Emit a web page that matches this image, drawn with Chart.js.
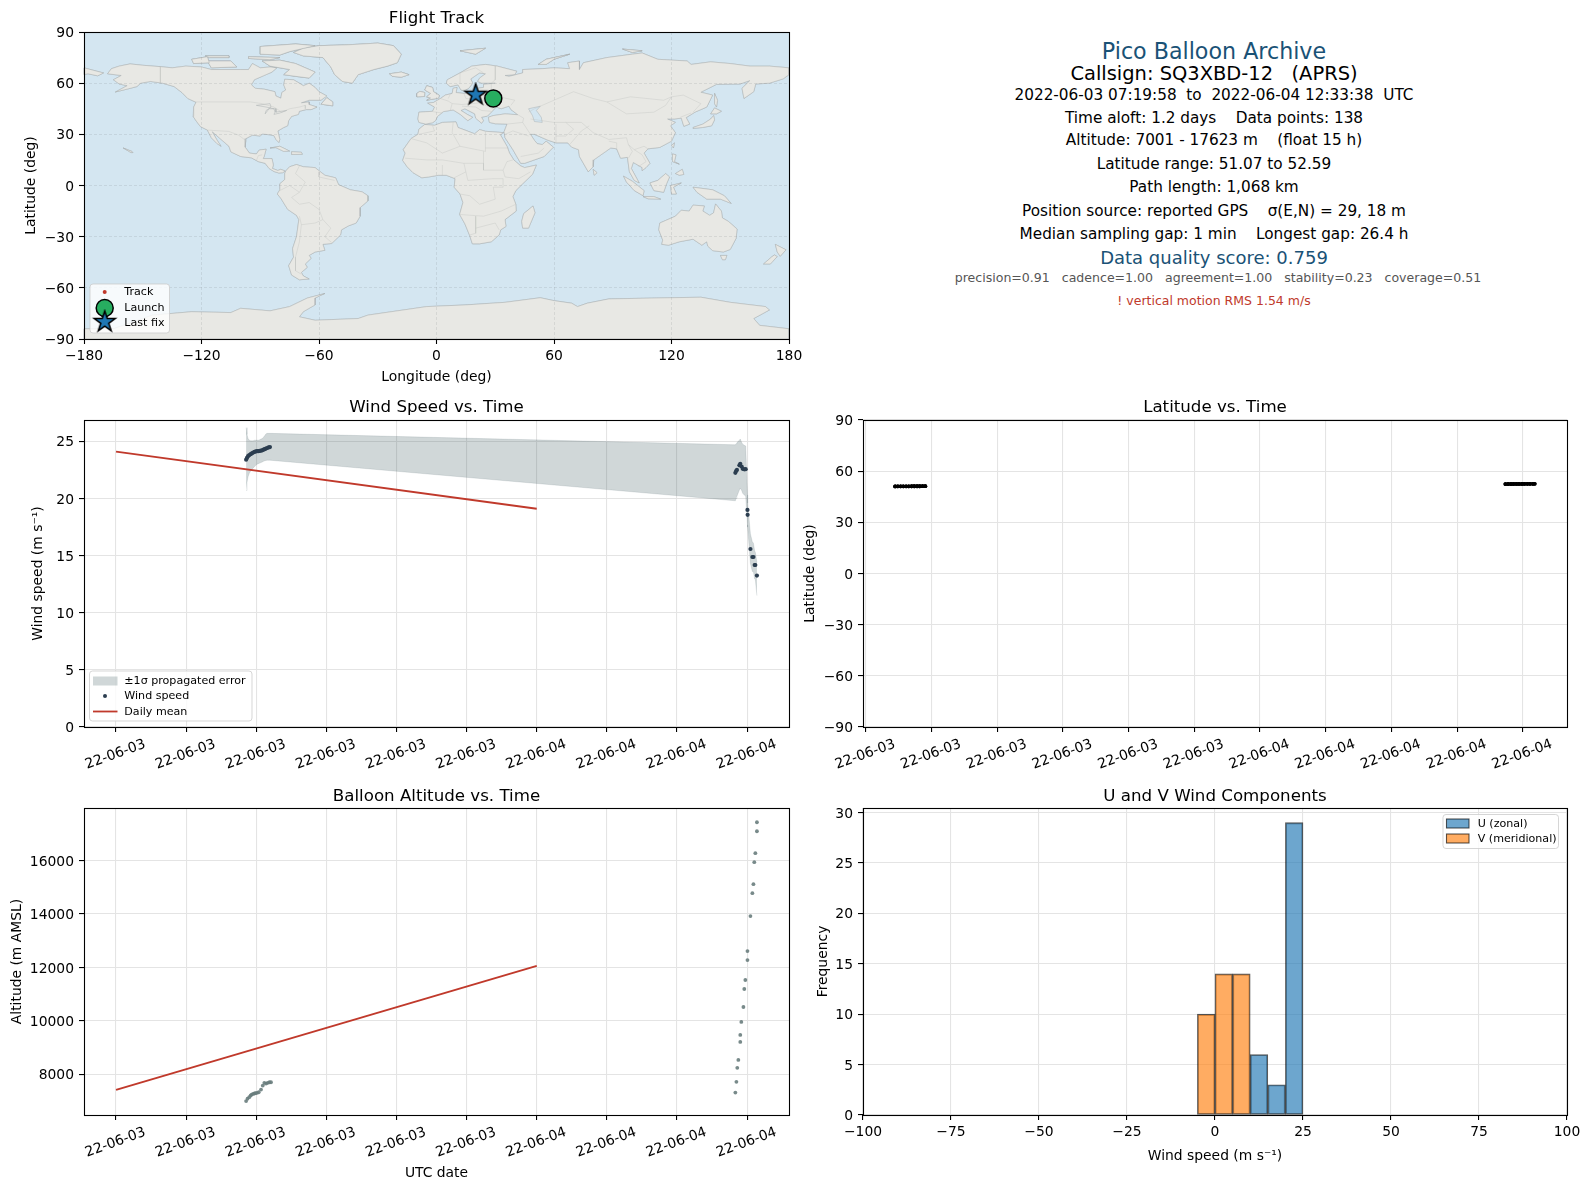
<!DOCTYPE html>
<html><head><meta charset="utf-8">
<style>
html,body{margin:0;padding:0;background:#fff;width:1590px;height:1189px;overflow:hidden;font-family:"DejaVu Sans",sans-serif}
canvas{position:absolute}
.info{position:absolute;white-space:pre;transform:translate(-50%,-50%);left:1214px;line-height:1}
</style>
<script src="https://cdn.jsdelivr.net/npm/chart.js@4/dist/chart.umd.js"></script>
</head><body>
<script>
/* ---------- data ---------- */
const windHours=[7.42,7.47,7.53,7.6,7.68,7.75,7.82,7.9,7.98,8.05,8.12,8.2,8.27,8.34,8.41,8.48,8.55,8.62,8.7,8.78,
 35.33,35.37,35.42,35.56,35.61,35.69,35.75,35.84,35.92,36.02,36.03,36.19,36.3,36.36,36.43,36.47,36.56];
const windSpeed=[23.4,23.55,23.7,23.8,23.88,23.95,24.02,24.08,24.12,24.15,24.14,24.16,24.19,24.22,24.27,24.32,24.37,24.42,24.47,24.5,
 22.25,22.4,22.5,22.9,23.04,22.8,22.6,22.55,22.57,19.0,18.57,15.58,14.88,14.88,14.18,14.18,13.25];
const windUpper=[26.2,25.6,25.25,25.1,25.05,25.05,25.05,25.1,25.1,25.1,25.1,25.15,25.2,25.25,25.35,25.5,25.65,25.7,25.7,25.7,
 24.7,24.8,24.9,25.1,25.2,24.9,24.75,24.65,24.6,20.3,19.6,16.9,16.2,16.1,15.4,15.3,14.4];
const windLower=[20.7,21.4,21.9,22.2,22.4,22.55,22.65,22.8,22.9,23.0,23.05,23.1,23.15,23.2,23.25,23.3,23.33,23.35,23.35,23.35,
 19.8,20.0,20.2,20.75,20.9,20.7,20.45,20.3,20.2,17.7,17.5,14.3,13.6,13.6,12.95,12.9,11.5];
const dailyHours=[0,24];
const dailyWind=[24.1,19.1];
const dailyAlt=[7420,12060];
const altHours=[7.42,7.5,7.6,7.68,7.74,7.82,7.89,7.96,8.04,8.14,8.27,8.37,8.46,8.56,8.65,8.75,8.84,
 35.33,35.39,35.44,35.5,35.61,35.61,35.67,35.79,35.84,35.9,36.02,36.02,36.19,36.3,36.36,36.41,36.47,36.56,36.56];
const altMeters=[7001,7090,7145,7210,7245,7270,7283,7295,7308,7331,7432,7580,7682,7656,7682,7705,7705,
 7320,7720,8243,8542,9214,9476,9962,10522,11195,11531,12279,12615,13923,14782,15119,15941,16277,17099,17436];
const altTicks=[8000,10000,12000,14000,16000];
const latHours=[7.33,7.34,7.35,7.45,7.46,7.47,7.58,7.59,7.6,7.7,7.71,7.72,7.83,7.84,7.85,7.95,7.96,7.97,8.08,8.09,8.1,8.2,8.21,8.22,8.33,8.34,8.35,8.45,8.46,8.47,8.58,8.59,8.6,8.7,8.71,8.72,
 35.2,35.21,35.22,35.32,35.33,35.34,35.45,35.46,35.47,35.57,35.58,35.59,35.7,35.71,35.72,35.82,35.83,35.84,35.95,35.96,35.97,36.07,36.08,36.09,36.2,36.21,36.22,36.32,36.33,36.34,36.45,36.46,36.47,36.54,36.55,36.56];
const latDeg=[51.07,51.08,51.08,51.09,51.09,51.1,51.1,51.1,51.11,51.11,51.12,51.12,51.12,51.13,51.13,51.13,51.14,51.14,51.14,51.15,51.15,51.15,51.15,51.16,51.16,51.16,51.17,51.17,51.17,51.17,51.18,51.18,51.18,51.18,51.19,51.19,
 52.45,52.45,52.46,52.46,52.47,52.47,52.48,52.48,52.49,52.49,52.5,52.5,52.51,52.51,52.52,52.52,52.53,52.53,52.54,52.54,52.55,52.55,52.56,52.56,52.57,52.57,52.57,52.58,52.58,52.58,52.59,52.59,52.59,52.59,52.59];
const trackLon=[29,28.8,28.5,28.2,27.9,21.2,20.9,20.6,20.3,20];
const trackLat=[51.07,51.1,51.13,51.17,51.2,52.45,52.5,52.54,52.57,52.59];
const launchLon=[29], launchLat=[51.07];
const lastLon=[20], lastLat=[52.59];
const histBinCentersU=[12.5,17.5,22.5];
const histCountsU=[6,3,29];
const histBinCentersV=[-2.5,2.5,7.5];
const histCountsV=[10,14,14];

const infoTexts=["Pico Balloon Archive","Callsign: SQ3XBD-12   (APRS)","2022-06-03 07:19:58  to  2022-06-04 12:33:38  UTC",
 "Time aloft: 1.2 days    Data points: 138","Altitude: 7001 - 17623 m    (float 15 h)","Latitude range: 51.07 to 52.59",
 "Path length: 1,068 km","Position source: reported GPS    σ(E,N) = 29, 18 m","Median sampling gap: 1 min    Longest gap: 26.4 h",
 "Data quality score: 0.759","precision=0.91   cadence=1.00   agreement=1.00   stability=0.23   coverage=0.51","! vertical motion RMS 1.54 m/s"];

/* coastlines, lon/lat pairs */
const northAmerica=[[-168,65.5],[-166,68.5],[-162,70],[-156.5,71.3],[-150,70.5],[-141,69.7],[-135,69],[-128,70],[-120,69.5],[-115,68],[-108,68],[-100,68],[-96,68],[-94,71.5],[-90,69],[-85,69.5],[-81.5,69],[-84,66.5],[-87,65],[-93,62],[-94.5,59],[-92.5,57],[-88,56.5],[-82.5,55],[-82,52.5],[-79.5,51.2],[-79,54.5],[-77,56],[-78,59],[-77.5,62.3],[-73,62],[-70,60],[-68,58.5],[-65,60],[-62,57.5],[-60,55],[-56,52.5],[-59,50],[-65,50],[-69,48.5],[-65,49],[-65,47.5],[-61,46],[-64,44.5],[-66.5,44.5],[-70,43.5],[-70.5,41.7],[-74,40.5],[-75.5,38],[-76,35],[-78,34],[-81,32],[-80,27],[-80.5,25.2],[-82,27],[-83,29.2],[-85,29.7],[-89,30.2],[-90,29],[-94,29.5],[-97.3,27.5],[-97.7,22.5],[-95.5,19],[-92,18.5],[-90.5,20.8],[-87,21.3],[-88,17],[-88.5,15.8],[-84,15.8],[-83.3,12],[-83.8,10],[-81,8.8],[-79.5,9.5],[-77.3,8.5],[-78.5,7.5],[-80.5,7.3],[-83,8.2],[-85.5,10],[-87.5,13],[-91,14],[-94.5,16.2],[-100,17],[-105,19.7],[-106,23],[-109,26],[-112.5,29.5],[-114.5,31.5],[-112,26.5],[-110,23],[-112,24.5],[-115,28],[-117,32.5],[-120.5,34.5],[-122.5,37.5],[-124.3,40.5],[-124,46],[-122.8,48.8],[-127,51],[-130,54.5],[-134,58],[-140,60],[-146,61],[-151,60],[-153,58],[-158,56.5],[-164,54.8],[-158,58.5],[-162,59.5],[-165,62],[-161,64.5],[-168,65.5]];
const greenland=[[-73,78],[-68,80.5],[-60,82],[-45,82.5],[-30,83.5],[-22,82],[-18,77],[-20,72],[-25,70],[-32,68],[-40,65],[-43,60],[-48,61],[-52,65],[-54,69.5],[-58,75],[-68,76],[-73,78]];
const baffin=[[-80,73.5],[-72,71.5],[-67,69],[-62,66.5],[-65,63],[-72,64],[-78,65],[-75,68],[-85,70],[-89,73],[-80,73.5]];
const victoriaIsland=[[-117,73],[-105,73],[-102,69.5],[-115,69],[-117,73]];
const banksIsland=[[-125,74],[-117,75.5],[-116,72],[-124,71.5],[-125,74]];
const ellesmere=[[-90,77],[-80,76.5],[-75,78.5],[-62,82],[-72,83],[-90,81.5],[-90,77]];
const devonIsland=[[-96,75.5],[-80,75],[-85,73.8],[-96,74.5],[-96,75.5]];
const melville=[[-118,76],[-106,76],[-106,75],[-116,75],[-118,76]];
const newfoundland=[[-59,47.7],[-53,46.7],[-53,49],[-56,51.5],[-59,47.7]];
const cuba=[[-85,22],[-80,23],[-75,20.2],[-78,20],[-82,22.2],[-85,22]];
const hispaniola=[[-74,19.8],[-69,19.5],[-68.5,18.3],[-74,18.2],[-74,19.8]];
const hawaii=[[-160,22],[-155.5,20],[-155,19.3],[-156,19.3],[-160,22]];
const iceland=[[-24,65.5],[-18,66.5],[-14,65],[-18,63.5],[-22.5,64],[-24,65.5]];
const britain=[[-5,50],[1,51.2],[1.5,52.8],[-1.5,55],[-2,57.5],[-5,58.5],[-6,56],[-3,54],[-5,52],[-3,51.3],[-5,50]];
const ireland=[[-10,52],[-6.2,52.2],[-6,54.5],[-8.5,55.2],[-10,54],[-10,52]];
const southAmerica=[[-77,8.5],[-75,11],[-71.5,12.3],[-68,11],[-62,10.5],[-57,6],[-51.5,4.5],[-50,0.5],[-44,-2.5],[-38,-3.7],[-35,-6],[-35,-9],[-39,-13],[-39,-18],[-41,-22],[-45,-23.7],[-48.5,-26],[-49,-29],[-53.5,-34],[-58,-34.5],[-57,-38],[-62,-39],[-65,-41],[-64,-42.7],[-67,-46],[-66,-48],[-69,-51],[-68,-53],[-65,-54.8],[-70,-55.3],[-74,-52.5],[-75.5,-47],[-73,-42],[-73.5,-37],[-71.5,-30],[-70.3,-20],[-71.5,-17.5],[-76,-14],[-79.5,-7.5],[-81.3,-5],[-80,-2.5],[-80,1],[-77.5,3.5],[-77.5,7],[-77,8.5]];
const africa=[[-6,35.8],[-1,35.3],[3,37],[10,37.3],[11,34],[15,32.3],[19.5,30.3],[22,32.8],[25,31.8],[32,31.2],[34.3,31],[32.6,29.8],[34,27],[36,23],[37.3,19],[39.5,15],[43,11.5],[45,10.5],[51,12],[49,6.5],[44,1],[40.5,-3],[39,-6.5],[40.5,-11],[40.7,-15],[35,-20],[35.5,-24],[32.8,-26],[32,-29],[28,-33],[22,-34.2],[18.3,-34.2],[17,-29.5],[14.5,-22.5],[11.8,-17],[13.5,-10],[12,-5],[9,-1],[9.5,4],[5,6],[1,6],[-4,5],[-7.5,4.5],[-12,7.5],[-15,11],[-17.3,14.7],[-16,19],[-17,21],[-13,27.5],[-9.5,30],[-9,33],[-6,35.8]];
const eurasia=[[-9,37],[-9.5,39],[-9,43],[-2,43.5],[-1,46],[-4.5,48.3],[-1.5,48.7],[2,51],[4.5,53],[8,54],[8.5,57],[10.5,57.5],[10,54.5],[14,54],[19,54.5],[21,57],[24,57.5],[24,59.3],[30,60],[23,60],[21,61],[22,63],[25,65.5],[22,66],[17.5,62.5],[18.5,60],[16.5,57],[14,55.5],[12.5,56],[11,59],[7,58],[5,60],[5.5,62],[12,66],[18,70],[25,71],[31,70],[41,67],[40,65],[35,64.5],[37,64],[44,66],[44,68],[54,68.5],[60,69],[68,68.5],[67,72],[73,73],[73,68],[75,72],[81,73.5],[87,75],[100,77],[105,77.7],[113,74],[128,73],[130,71],[140,72.5],[150,71.5],[160,70],[170,70],[180,69],[180,65],[177,62.5],[170,60],[163,59.5],[162,55],[157,51],[156,57],[160,61.5],[155,59.5],[143,59.3],[135,54.7],[141,53],[138,46],[132,43],[127.5,39.8],[129.3,36],[126.3,34.7],[125,39.5],[121.5,39],[118,39],[122,37],[119.5,35],[122,31],[120,26],[114,22.3],[108,21.5],[106,19],[109,13],[107,10.5],[105,8.7],[105,10.5],[100.5,13.5],[99.5,10],[103.5,1.5],[101,3],[98.5,8],[97.5,16.5],[94,16],[92,21.5],[89,22],[86.5,20],[80.3,15],[80,11],[77.5,8],[73,17],[72.5,21],[69,22.5],[67,25],[61,25],[57,26.5],[56,27],[50,30],[48,30],[50,26.5],[51.5,24.5],[54,24],[56,26],[59.7,22.5],[55,17],[45,13],[43,13],[39,21],[35,28],[34.5,31.5],[36,36],[30,36.2],[27,37],[26.5,40],[29,41],[35,42],[41.5,41.5],[38,44.5],[37,46.5],[33,45],[30.5,46],[28,43],[26,40.7],[23,40],[24,38],[23,36.5],[20,39.5],[19.5,42],[14.5,45],[12.5,44],[16,41.5],[18.5,40],[16,38],[12,41.8],[8.5,44.3],[3.5,43.3],[0.5,40.5],[-0.5,38],[-2,36.8],[-5.5,36],[-9,37]];
const chukotkaWest=[[-180,69],[-175,67.5],[-170,66],[-173,64.3],[-178,65.5],[-180,65],[-180,69]];
const madagascar=[[49.3,-12],[50.3,-16],[47,-25],[44,-25],[43.5,-21],[44.5,-16.5],[49.3,-12]];
const sriLanka=[[80,9.5],[82,7.5],[80.5,6],[80,9.5]];
const sumatra=[[95.5,5.5],[100,2.5],[106,-3],[105.5,-6],[101,-3],[97,2],[95.5,5.5]];
const java=[[105.5,-6.5],[111,-6.5],[114.5,-8],[108,-7.8],[105.5,-6.5]];
const borneo=[[109,1.5],[113,3],[117,7],[119,5],[117.5,1],[116,-4],[111,-3],[109,1.5]];
const sulawesi=[[119.5,0],[125,1.5],[121,-1],[122.5,-5],[120,-5],[119.5,0]];
const newGuinea=[[131,-1],[141,-2.5],[147,-6],[150.5,-10.5],[145,-8],[138,-8],[133,-4],[131,-1]];
const luzon=[[120.5,18.5],[122.3,18],[121.5,14],[124,12.5],[120.5,14],[120.5,18.5]];
const mindanao=[[122,7],[125.5,9.5],[126.3,6.5],[124,6],[122,7]];
const taiwan=[[121.5,25],[121,22],[120,23.5],[121.5,25]];
const honshu=[[131,34],[136,36],[140,39],[141.5,41],[142,38.5],[140.5,35],[136,34],[131,33.5],[131,34]];
const hokkaido=[[140,42],[142,45.5],[145.5,43.5],[143,42],[140,42]];
const sakhalin=[[142,54],[143.5,50],[143,46],[142,48],[142,54]];
const australia=[[114,-22],[113.5,-26],[115.5,-32],[115,-34.5],[118.5,-35],[124,-33],[131,-31.5],[135.5,-35],[138,-33],[138.5,-35.5],[141,-38.2],[146.5,-39],[150,-37.5],[153,-31],[153.5,-25.5],[149,-21],[146,-19],[145.5,-15],[142.5,-10.8],[141.5,-16],[139.5,-17.5],[136,-15],[136.8,-12],[131,-11.5],[129,-15],[125,-14.5],[122,-18],[117,-20.5],[114,-22]];
const tasmania=[[145,-41],[148.3,-41],[147.5,-43.5],[146,-43.5],[145,-41]];
const nzNorth=[[173,-34.5],[178.5,-37.7],[175.5,-41.5],[174,-39],[173,-34.5]];
const nzSouth=[[172.5,-40.7],[174,-41.7],[170.5,-46],[167,-46],[171,-42],[172.5,-40.7]];
const novayaZemlya=[[52,71],[56,74],[68,77],[60,74],[56,71],[52,71]];
const svalbard=[[12,79],[25,80.5],[20,77],[12,79]];
const severnaya=[[95,80],[105,79],[100,78],[95,80]];
const antarctica=[[-180,-90],[-180,-84],[-165,-84],[-155,-80],[-145,-76],[-125,-74],[-105,-74.5],[-100,-72],[-85,-73.5],[-75,-71],[-66,-66],[-57,-63.3],[-62,-66],[-62,-70],[-68,-74],[-70,-77],[-62,-79],[-40,-78],[-35,-76],[-20,-73.5],[-5,-71],[15,-70],[35,-68.5],[53,-65.8],[60,-67.5],[69,-69],[72,-71],[77,-69],[88,-66.5],[110,-66],[135,-65.5],[150,-68.5],[168,-71],[170,-73],[162,-78],[165,-82],[180,-84],[180,-90],[-180,-90]];
const caspianSea=[[47,45],[53,46.5],[51,44],[53.5,40],[54,37],[50,37.5],[49,41],[47,45]];
const greatLakes=[[-92,47],[-85,48],[-84.5,46],[-87,44],[-87.5,42],[-85.5,45],[-82,45],[-82,43],[-79.5,43.5],[-76.5,44],[-80,42.5],[-83,41.7],[-82.5,43],[-83,45],[-87,46],[-92,47]];
const landShapes=[northAmerica,greenland,baffin,victoriaIsland,banksIsland,ellesmere,devonIsland,melville,newfoundland,cuba,hispaniola,hawaii,iceland,britain,ireland,southAmerica,africa,eurasia,chukotkaWest,madagascar,sriLanka,sumatra,java,borneo,sulawesi,newGuinea,luzon,mindanao,taiwan,honshu,hokkaido,sakhalin,australia,tasmania,nzNorth,nzSouth,novayaZemlya,svalbard,severnaya,antarctica];
const northernIslands=[greenland,baffin,victoriaIsland,banksIsland,ellesmere,devonIsland,melville,newfoundland,iceland,ireland,britain,novayaZemlya,svalbard,severnaya];
const waterShapes=[caspianSea];
const lakeLines=[greatLakes];
const borderLines=[
 [[-141,69.7],[-141,60]],[[-123,49],[-95,49],[-89,48],[-83,46],[-79,43],[-75,45],[-70,46],[-67,47],[-67,45]],
 [[-117,32.5],[-106,31.7],[-101,29.5],[-97,26]],[[-92,14.5],[-91,17.5],[-89,18]],
 [[-70,11.5],[-72,7],[-67,2],[-70,-4],[-74,-7],[-70,-11],[-65,-10],[-60,-14],[-58,-20],[-54,-25],[-57,-30],[-53.5,-33.5]],
 [[-60,8],[-60,5],[-52,3]],[[-80,-3],[-75,0],[-70,-4]],[[-70,-18],[-69,-23],[-70,-33],[-72,-42],[-72,-50],[-69,-52]],[[-69,-23],[-62,-22],[-58,-20]],
 [[-9,30],[-1,32],[-2,35]],[[8.5,37],[8,31],[12,23],[25,20],[25,31.5]],[[-13,27.5],[-5,25],[3,19],[12,23]],
 [[-16,16],[-5,15],[3,15],[14,13],[24,13],[24,20]],[[25,22],[37,22]],[[24,13],[24,9],[34,9],[36,14],[39,15]],[[34,9],[35,5],[42,4],[48,8]],
 [[3,6],[3,12]],[[9,4.5],[15,8],[14,13]],[[15,8],[16,3],[29,4],[34,4]],[[12,-5],[17,-6],[22,-11],[30,-8],[29,-1],[34,-1],[34,4]],
 [[12,-17],[24,-18],[33,-15],[40.5,-11]],[[20,-18],[20,-28],[17,-29]],[[20,-25],[30,-22],[32,-26]],
 [[2,51],[6,49.5],[8,48],[7,44]],[[-2,43.3],[3,42.5]],[[6,51],[7,53.5]],[[14,54],[15,51],[24,50],[22,48.5],[18,48],[13,47.5],[8,48]],
 [[24,50],[24,54],[28,56],[28,60]],[[24,50],[32,52],[40,50],[38,47]],[[22,48.5],[28,45.5],[29,45]],[[13,46.5],[20,46],[23,44],[28,43.5]],
 [[30,70],[30,62],[28,60]],[[20,69],[24,66]],[[12,60],[12,66],[20,69]],
 [[36,36],[44,37],[48,30]],[[44,37],[44.5,39.5],[41.5,41.5]],[[35,30],[39,32],[47,29]],[[43,17],[52,19],[55,22]],
 [[48,39],[60,37],[66,37],[74,37]],[[61,25],[61,31],[61,36]],[[66,37],[70,33],[66,29],[61,29]],[[68,24],[71,28],[74,32],[78,35]],
 [[47,43],[50,45],[60,50],[70,55],[80,51],[87,49]],[[87,49],[97,42],[111,43],[117,47],[120,52],[126,53],[135,48],[131,43]],[[87,49],[99,52],[116,50],[120,52]],
 [[74,37],[80,31],[88,27],[97,28],[98,24],[101,21],[106,23],[108,21.5]],[[92,21.5],[92,25],[88,26]],[[98,24],[100,20],[98,16]],[[101,21],[105,18],[107,14],[103,11]],[[124.5,40],[130,42.5]]
];

/* ---------- helpers ---------- */
const FONT='"DejaVu Sans", sans-serif';
Chart.defaults.font.family=FONT;
Chart.defaults.color='#000';
const pts=(xs,ys)=>xs.map((x,i)=>({x,y:ys[i]}));
const joined=list=>list.flatMap(s=>s.map(([x,y])=>({x,y})).concat([{x:null,y:null}])).slice(0,-1);
const minusFmt=v=>(v<0?'\u2212'+Math.abs(v):String(v));
const dateFmt=v=>{const d=new Date(Date.UTC(2022,5,3)+v*3600e3);
  return String(d.getUTCFullYear()).slice(2)+'-'+String(d.getUTCMonth()+1).padStart(2,'0')+'-'+String(d.getUTCDate()).padStart(2,'0');};
const GRID='#e4e4e4';

function starCanvas(r,fill){
  const c=document.createElement('canvas'),s=2*r+6;c.width=s;c.height=s;
  const g=c.getContext('2d');g.beginPath();
  for(let i=0;i<10;i++){const a=-Math.PI/2+i*Math.PI/5,q=i%2?r*0.382:r;
    const px=s/2+q*Math.cos(a),py=s/2+q*Math.sin(a)-1;i?g.lineTo(px,py):g.moveTo(px,py);}
  g.closePath();g.fillStyle=fill;g.fill();g.lineWidth=1.5;g.strokeStyle='#000';g.lineJoin='miter';g.stroke();
  return c;
}
const starImg=starCanvas(11,'#1f77b4');

function paintOutlines(chart,list,fill,stroke){
  const c=chart.ctx,sx=chart.scales.x,sy=chart.scales.y;
  list.forEach(shape=>{
    c.beginPath();
    shape.forEach(([lon,lat],i)=>{const px=sx.getPixelForValue(lon),py=sy.getPixelForValue(lat);i?c.lineTo(px,py):c.moveTo(px,py);});
    if(fill){c.closePath();c.fillStyle=fill;c.fill();}
    c.lineWidth=1;c.strokeStyle=stroke;c.stroke();
  });
}
function framePlugin(panel,bg,legend,underlay,overlay){
  return {id:'frame',
   beforeDatasetsDraw(chart){
     const a=chart.chartArea,c=chart.ctx;c.save();
     if(bg){c.fillStyle=bg;c.fillRect(a.left,a.top,a.width,a.height);}
     if(underlay) underlay(chart);
     c.restore();
   },
   afterDatasetsDraw(chart){ if(overlay){chart.ctx.save();overlay(chart);chart.ctx.restore();} },
   afterDraw(chart){
    const a=chart.chartArea,c=chart.ctx;c.save();c.strokeStyle='#000';c.lineWidth=1.1;
    c.strokeRect(Math.round(a.left)+.5,Math.round(a.top)+.5,Math.round(a.width),Math.round(a.height));
    if(legend){
      const L=legend,ox=panel.left,oy=panel.top;
      c.fillStyle='rgba(255,255,255,0.8)';c.strokeStyle='rgba(204,204,204,0.8)';c.lineWidth=1;
      c.beginPath();c.roundRect(L.x0-ox,L.y0-oy,L.x1-L.x0,L.y1-L.y0,3);c.fill();c.stroke();
      c.textBaseline='middle';c.textAlign='left';c.font=L.font+'px '+FONT;
      L.items.forEach(it=>{
        const y=it.y-oy,mx=L.mx-ox;
        if(it.kind==='rect'){c.fillStyle=it.fill;c.fillRect(L.px0-ox,y-4.5,L.px1-L.px0,9);if(it.edge){c.strokeStyle=it.edge;c.lineWidth=1.1;c.strokeRect(L.px0-ox,y-4.5,L.px1-L.px0,9);}}
        if(it.kind==='dot'||it.kind==='circle'){c.beginPath();c.arc(mx,y,it.r,0,7);c.fillStyle=it.fill;c.fill();if(it.kind==='circle'){c.lineWidth=1.5;c.strokeStyle='#000';c.stroke();}}
        if(it.kind==='line'){c.strokeStyle=it.fill;c.lineWidth=1.8;c.beginPath();c.moveTo(L.px0-ox,y);c.lineTo(L.px1-ox,y);c.stroke();}
        if(it.kind==='star'){c.drawImage(starImg,mx-starImg.width/2,y-starImg.height/2);}
      });
      L.items.forEach(it=>{c.fillStyle='#000';c.fillText(it.text,L.tx-ox,it.y-oy+0.5);});
    }
    c.restore();
   }};
}
function panelChart(panel,title,scales,datasets,bg,legend,type,underlay,overlay){
  const cv=document.createElement('canvas');cv.width=panel.w;cv.height=panel.h;
  cv.style.left=panel.left+'px';cv.style.top=panel.top+'px';cv.style.width=panel.w+'px';cv.style.height=panel.h+'px';
  document.body.appendChild(cv);
  return new Chart(cv,{type:type||'line',data:{datasets},plugins:[framePlugin(panel,bg,legend,underlay,overlay)],options:{
    responsive:false,maintainAspectRatio:false,devicePixelRatio:1,animation:false,events:[],
    layout:{padding:{right:panel.rightPad,left:0,top:0,bottom:0}},
    plugins:{legend:{display:false},tooltip:{enabled:false},
      title:{display:true,text:title,fullSize:false,font:{size:16.67,weight:'normal',family:FONT,lineHeight:1.2},color:'#000',padding:{top:panel.titleTop,bottom:5-panel.titleTop}}},
    scales}});
}
function axisCommon(){return {grid:{color:GRID,lineWidth:1.1,tickLength:5,tickColor:'#000',tickWidth:1.1,offset:false},border:{display:false}};}
function yAxis(o){const a=Object.assign(axisCommon(),{type:'linear',position:'left',min:o.min,max:o.max,
  afterFit:s=>{s.width=o.width;},
  ticks:{stepSize:o.step,includeBounds:false,autoSkip:false,padding:5,labelOffset:1.5,font:{size:13.89,family:FONT},color:'#000',callback:minusFmt,maxRotation:0},
  title:{display:true,text:o.title,font:{size:13.89,family:FONT,lineHeight:1.2},color:'#000',padding:{top:o.titlePad,bottom:0}}});
  if(o.tickValues) a.afterBuildTicks=s=>{s.ticks=o.tickValues.map(value=>({value}));};
  return a;}
function xAxisNum(o){return Object.assign(axisCommon(),{type:'linear',position:'bottom',min:o.min,max:o.max,offset:false,
  afterFit:s=>{s.height=o.height;},
  ticks:{stepSize:o.step,includeBounds:false,autoSkip:false,padding:4,font:{size:13.89,family:FONT},color:'#000',callback:minusFmt,maxRotation:0},
  title:{display:true,text:o.title,font:{size:13.89,family:FONT,lineHeight:1.2},color:'#000',padding:{top:0,bottom:0}}});}
function xAxisTime(o){return Object.assign(axisCommon(),{type:'linear',position:'bottom',min:o.min,max:o.max,
  afterFit:s=>{s.height=o.height;},
  ticks:{stepSize:o.step,includeBounds:false,autoSkip:false,padding:4,labelOffset:29,minRotation:20,maxRotation:20,font:{size:13.89,family:FONT},color:'#000',callback:dateFmt},
  title:{display:!!o.title,text:o.title||'',font:{size:13.89,family:FONT,lineHeight:1.2},color:'#000',padding:{top:0,bottom:0}}});}

/* ---------- map ---------- */
const mapPanel={left:0,top:7,w:812,h:25+307+47,rightPad:23,titleTop:2};
const COAST='rgba(165,170,172,0.45)';
const mapSets=[
 {data:joined(landShapes),fill:'shape',backgroundColor:'#e8e8e4',borderColor:COAST,borderWidth:1,pointRadius:0,tension:0,spanGaps:false,clip:false,order:10},
 {data:joined(waterShapes),fill:'shape',backgroundColor:'#d4e6f1',borderColor:COAST,borderWidth:1,pointRadius:0,tension:0,spanGaps:false,clip:false,order:8},
 {data:joined(lakeLines),fill:false,borderColor:COAST,borderWidth:1,pointRadius:0,tension:0,clip:false,order:8},
 {data:joined(borderLines),fill:false,borderColor:'rgba(190,192,190,0.45)',borderWidth:0.8,pointRadius:0,tension:0,spanGaps:false,clip:false,order:7},
 {label:'Track',data:pts(trackLon,trackLat),showLine:false,pointRadius:2,pointBackgroundColor:'#c0392b',pointBorderWidth:0,order:3},
 {label:'Launch',data:pts(launchLon,launchLat),showLine:false,pointRadius:8.5,pointBackgroundColor:'#27ae60',pointBorderColor:'#000',pointBorderWidth:1.5,order:2},
 {label:'Last fix',data:pts(lastLon,lastLat),showLine:false,pointStyle:starImg,pointRadius:11,order:1}
];
const mapScales={x:xAxisNum({min:-180,max:180,step:60,title:'Longitude (deg)',height:47}),
                 y:yAxis({min:-90,max:90,step:30,title:'Latitude (deg)',width:84,titlePad:23})};
mapScales.x.grid.z=1;mapScales.y.grid.z=1;
mapScales.x.grid.color='rgba(120,130,135,0.22)';mapScales.y.grid.color='rgba(120,130,135,0.22)';
mapScales.x.grid.lineWidth=0.8;mapScales.y.grid.lineWidth=0.8;
mapScales.x.border={display:false,dash:[3,2]};mapScales.y.border={display:false,dash:[3,2]};
panelChart(mapPanel,'Flight Track',mapScales,mapSets,'#d4e6f1',
 {x0:90,y0:284,x1:169.5,y1:333,font:11.1,mx:104.7,tx:124.3,px0:0,px1:0,items:[
  {kind:'dot',fill:'#c0392b',r:2,y:292,text:'Track'},
  {kind:'circle',fill:'#27ae60',r:8.5,y:308,text:'Launch'},
  {kind:'star',y:323,text:'Last fix'}]},'line',
 chart=>{paintOutlines(chart,landShapes,'#e8e8e4',COAST);paintOutlines(chart,waterShapes,'#d4e6f1',COAST);paintOutlines(chart,lakeLines,null,COAST);},
 chart=>{paintOutlines(chart,northernIslands,'#e8e8e4',COAST);});

/* ---------- wind speed ---------- */
const windPanel={left:0,top:395,w:812,h:25+307+60,rightPad:23,titleTop:2.5};
const leftTimeMin=-1.828,leftTimeMax=38.39;
const BAND='rgba(55,85,90,0.235)',BANDEDGE='rgba(55,85,90,0.12)';
panelChart(windPanel,'Wind Speed vs. Time',{
  x:xAxisTime({min:leftTimeMin,max:leftTimeMax,step:4,height:60}),
  y:yAxis({min:0,max:26.87,step:5,title:'Wind speed (m s\u207B\u00B9)',width:84,titlePad:30})},[
  {label:'\u00B11\u03C3 propagated error',data:pts(windHours,windUpper),fill:'+1',backgroundColor:BAND,borderColor:BANDEDGE,borderWidth:1,pointRadius:0,tension:0,order:5},
  {data:pts(windHours,windLower),fill:false,borderColor:BANDEDGE,borderWidth:1,pointRadius:0,tension:0,order:6},
  {label:'Daily mean',data:pts(dailyHours,dailyWind),fill:false,borderColor:'#c0392b',borderWidth:1.9,pointRadius:0,tension:0,order:2},
  {label:'Wind speed',data:pts(windHours,windSpeed),showLine:false,pointRadius:2.1,pointBackgroundColor:'#2c3e50',pointBorderWidth:0,order:1}
 ],null,
 {x0:89.5,y0:671,x1:252,y1:721,font:11.1,mx:105,tx:124.3,px0:93,px1:117.5,items:[
  {kind:'rect',fill:BAND,y:681,text:'\u00B11\u03C3 propagated error'},
  {kind:'dot',fill:'#2c3e50',r:2,y:696,text:'Wind speed'},
  {kind:'line',fill:'#c0392b',y:711.5,text:'Daily mean'}]});

/* ---------- latitude ---------- */
const latPanel={left:790,top:395,w:800,h:25+307+60,rightPad:23,titleTop:2.5};
const rightTimeMin=5.87,rightTimeMax=38.02;
panelChart(latPanel,'Latitude vs. Time',{
  x:xAxisTime({min:rightTimeMin,max:rightTimeMax,step:3,height:60}),
  y:yAxis({min:-90,max:90,step:30,title:'Latitude (deg)',width:73,titlePad:12})},[
  {label:'Latitude',data:pts(latHours,latDeg),showLine:false,pointRadius:1.9,pointBackgroundColor:'#000',pointBorderWidth:0}
 ],null,null);

/* ---------- altitude ---------- */
const altPanel={left:0,top:783,w:812,h:25+307+67,rightPad:23,titleTop:4};
panelChart(altPanel,'Balloon Altitude vs. Time',{
  x:xAxisTime({min:leftTimeMin,max:leftTimeMax,step:4,height:67,title:'UTC date'}),
  y:yAxis({min:6479,max:17969,tickValues:altTicks,title:'Altitude (m AMSL)',width:84,titlePad:9})},[
  {label:'Daily mean',data:pts(dailyHours,dailyAlt),fill:false,borderColor:'#c0392b',borderWidth:1.9,pointRadius:0,tension:0,order:2},
  {label:'Altitude',data:pts(altHours,altMeters),showLine:false,pointRadius:1.9,pointBackgroundColor:'rgba(105,125,125,0.9)',pointBorderWidth:0,order:1}
 ],null,null);

/* ---------- histogram ---------- */
const histPanel={left:790,top:783,w:800,h:25+307+50,rightPad:23,titleTop:4};
const histBar={grouped:false,categoryPercentage:1,barPercentage:1,borderWidth:1.2,borderColor:'rgba(0,0,0,0.65)',borderSkipped:false};
panelChart(histPanel,'U and V Wind Components',{
  x:xAxisNum({min:-100,max:100,step:25,title:'Wind speed (m s\u207B\u00B9)',height:50}),
  y:yAxis({min:0,max:30.45,step:5,title:'Frequency',width:73,titlePad:25})},[
  Object.assign({label:'U (zonal)',data:pts(histBinCentersU,histCountsU),backgroundColor:'rgba(31,119,180,0.65)'},histBar),
  Object.assign({label:'V (meridional)',data:pts(histBinCentersV,histCountsV),backgroundColor:'rgba(255,127,14,0.65)'},histBar)
 ],null,
 {x0:1443,y0:814.5,x1:1558.5,y1:848.5,font:11.1,mx:0,tx:1477.7,px0:1446.5,px1:1469,items:[
  {kind:'rect',fill:'rgba(31,119,180,0.65)',edge:'rgba(0,0,0,0.65)',y:823.5,text:'U (zonal)'},
  {kind:'rect',fill:'rgba(255,127,14,0.65)',edge:'rgba(0,0,0,0.65)',y:838.5,text:'V (meridional)'}]},'bar');

/* ---------- info text ---------- */
const infoY=[50.7,74,95.7,118.7,141.3,164.5,187.7,211.5,234.5,257.5,278,301];
const infoSize=[22.2,19.44,15.28,15.28,15.28,15.28,15.28,15.28,15.28,18,12.55,12.5];
const infoColor=['#1a5276','#000','#000','#000','#000','#000','#000','#000','#000','#1a5276','#555','#c0392b'];
const infoShift=[0,0,0,0,0,0,0,0,0,0,4,0];
infoTexts.forEach((t,i)=>{const d=document.createElement('div');d.className='info';d.textContent=t;
  d.style.top=infoY[i]+'px';d.style.left=(1214+infoShift[i])+'px';d.style.fontSize=infoSize[i]+'px';d.style.color=infoColor[i];document.body.appendChild(d);});
</script>
</body></html>
